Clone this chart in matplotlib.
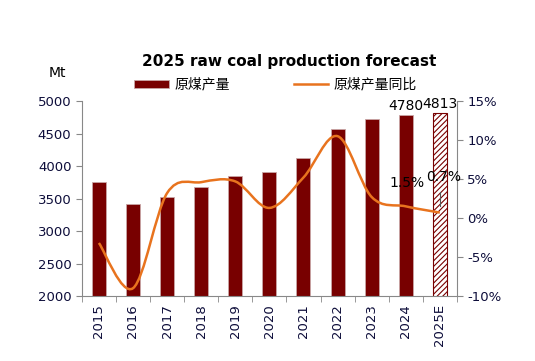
import matplotlib.pyplot as plt
import numpy as np
from matplotlib.path import Path
from matplotlib.patches import PathPatch

plt.rcParams['font.family'] = ['DejaVu Sans', 'Noto Sans CJK SC']
plt.rcParams['hatch.linewidth'] = 0.8

# data
years = ['2015', '2016', '2017', '2018', '2019', '2020', '2021', '2022', '2023', '2024', '2025E']
production = [3749, 3415, 3518, 3682, 3851, 3903, 4130, 4569, 4720, 4780, 4813]
yoy = [-3.2, -9.0, 3.2, 4.6, 4.7, 1.3, 5.2, 10.5, 2.7, 1.5, 0.7]

bar_color = '#780000'
line_color = '#E8731E'
tick_color = '#0D0D3A'

fig = plt.figure(figsize=(5.35, 3.61), dpi=100)
ax1 = fig.add_axes([0.153, 0.18, 0.701, 0.54])
x = np.arange(len(years))

# bars: actual years solid, forecast hatched
ax1.bar(x[:-1], production[:-1], width=0.41, color=bar_color,
        edgecolor='#C9A6A6', linewidth=0.6, label='原煤产量', zorder=2)
ax1.bar(x[-1], production[-1], width=0.41, color='white', edgecolor=bar_color,
        hatch='//////', linewidth=0.8, zorder=2)

ax1.set_ylim(2000, 5000)
ax1.set_yticks([2000, 2500, 3000, 3500, 4000, 4500, 5000])
ax1.set_xlim(-0.5, len(years) - 0.5)
ax1.set_xticks(x)
ax1.set_xticklabels(years, rotation=90)
ax1.set_xticks(np.arange(-0.5, len(years)), minor=True)
ax1.tick_params(axis='x', which='major', length=0, pad=6, labelsize=9.5, colors=tick_color)
ax1.tick_params(axis='x', which='minor', length=4, color='#888888')
ax1.tick_params(axis='y', length=4, color='#888888', labelsize=9.5, labelcolor=tick_color)
for s in ['top', 'right']:
    ax1.spines[s].set_visible(False)
for s in ['left', 'bottom']:
    ax1.spines[s].set_color('#888888')

ax1.text(x[-2], production[-2] + 35, str(production[-2]),
         ha='center', va='bottom', fontsize=10)
ax1.text(x[-1], production[-1] + 35, str(production[-1]),
         ha='center', va='bottom', fontsize=10)

# yoy line, smoothed like the spreadsheet version
ax2 = ax1.twinx()
ax2.set_ylim(-10, 15)
ax2.set_yticks([-10, -5, 0, 5, 10, 15])
ax2.set_yticklabels(['%d%%' % v for v in [-10, -5, 0, 5, 10, 15]])
ax2.tick_params(axis='y', length=4, color='#888888', labelsize=9.5, labelcolor=tick_color)
for s in ['top', 'left', 'bottom']:
    ax2.spines[s].set_visible(False)
ax2.spines['right'].set_color('#888888')

pts = np.column_stack([x, yoy]).astype(float)
verts = [pts[0]]
codes = [Path.MOVETO]
for i in range(len(pts) - 1):
    p0 = pts[i - 1] if i > 0 else pts[i]
    p3 = pts[i + 2] if i + 2 < len(pts) else pts[i + 1]
    c1 = pts[i] + (pts[i + 1] - p0) / 6
    c2 = pts[i + 1] - (p3 - pts[i]) / 6
    verts += [c1, c2, pts[i + 1]]
    codes += [Path.CURVE4] * 3
ax2.add_patch(PathPatch(Path(verts, codes), facecolor='none', edgecolor=line_color,
                        linewidth=1.8, zorder=3))
ax2.plot([], [], color=line_color, linewidth=1.8, label='原煤产量同比')

ax2.text(x[-2] + 0.05, yoy[-2] + 3.0, '1.5%', ha='center', va='center', fontsize=10)
ax2.text(x[-1] + 0.1, yoy[-1] + 4.5, '0.7%', ha='center', va='center', fontsize=10)
ax2.plot([x[-1], x[-1]], [yoy[-1] + 0.9, yoy[-1] + 2.7], color='#555555', linewidth=0.8)

# legend and titles
h1, l1 = ax1.get_legend_handles_labels()
h2, l2 = ax2.get_legend_handles_labels()
fig.legend(h1 + h2, l1 + l2, loc='center', bbox_to_anchor=(0.515, 0.765), ncol=2,
           frameon=False, fontsize=10, columnspacing=4.6, handlelength=2.5,
           handleheight=0.6, handletextpad=0.4)
fig.text(0.54, 0.83, '2025 raw coal production forecast', ha='center', va='center',
         fontsize=11, fontweight='bold')
fig.text(0.107, 0.798, 'Mt', ha='center', va='center', fontsize=10)

fig.savefig('out.png', dpi=100)
